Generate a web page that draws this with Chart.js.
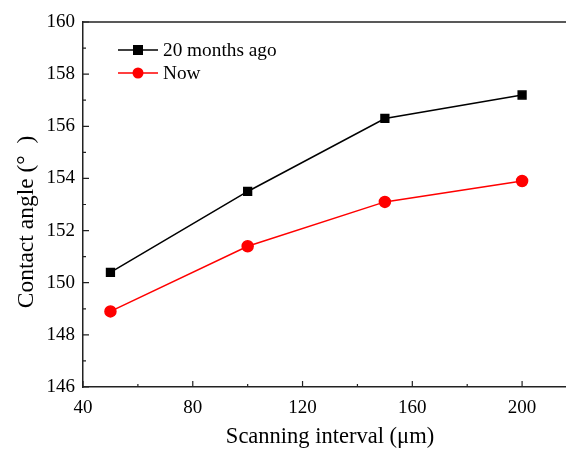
<!DOCTYPE html>
<html>
<head>
<meta charset="utf-8">
<script src="https://cdn.jsdelivr.net/npm/chart.js@4.4.1/dist/chart.umd.min.js"></script>
<style>
  html, body { margin: 0; padding: 0; background: #fff; overflow: hidden; }
  #wrap { width: 566px; height: 450px; }
</style>
</head>
<body>
<div id="wrap"><canvas id="grafico"></canvas></div>
<script>
const scanInterval = [50, 100, 150, 200];
const angleBefore = [150.4, 153.5, 156.3, 157.2];
const angleNow = [148.9, 151.4, 153.1, 153.9];
const xTicks = [40, 80, 120, 160, 200];
const xMinorTicks = [60, 100, 140, 180];
const yTicks = [146, 148, 150, 152, 154, 156, 158, 160];
const yMinorTicks = [147, 149, 151, 153, 155, 157, 159];
const xTitle = 'Scanning interval (μm)';
const yTitle = 'Contact angle (°  )';

const FONT = "'Liberation Serif', 'Times New Roman', serif";

// inward ticks, top frame line, axis titles and legend (line + marker)
const framePlugin = {
  id: 'frame',
  afterDraw(chart) {
    const ctx = chart.ctx;
    const a = chart.chartArea;
    const x = chart.scales.x;
    const y = chart.scales.y;
    ctx.save();
    ctx.strokeStyle = '#222';
    ctx.lineWidth = 1.5;
    ctx.beginPath();
    ctx.moveTo(a.left, a.top);
    ctx.lineTo(a.right, a.top);
    ctx.stroke();

    ctx.lineWidth = 1.2;
    ctx.beginPath();
    xTicks.forEach(v => { const px = x.getPixelForValue(v); ctx.moveTo(px, a.bottom); ctx.lineTo(px, a.bottom - 6); });
    xMinorTicks.forEach(v => { const px = x.getPixelForValue(v); ctx.moveTo(px, a.bottom); ctx.lineTo(px, a.bottom - 3); });
    yTicks.forEach(v => { const py = y.getPixelForValue(v); ctx.moveTo(a.left, py); ctx.lineTo(a.left + 6, py); });
    yMinorTicks.forEach(v => { const py = y.getPixelForValue(v); ctx.moveTo(a.left, py); ctx.lineTo(a.left + 3, py); });
    ctx.stroke();

    // axis titles
    ctx.fillStyle = '#000';
    ctx.textAlign = 'center';
    ctx.textBaseline = 'alphabetic';
    ctx.font = '22.5px ' + FONT;
    ctx.fillText(xTitle, 330, 443);
    ctx.save();
    ctx.translate(33, 222);
    ctx.rotate(-Math.PI / 2);
    ctx.font = '23.5px ' + FONT;
    ctx.fillText(yTitle, 0, 0);
    ctx.restore();

    // legend
    const rows = [[0, 50], [1, 73]];
    ctx.font = '19.3px ' + FONT;
    ctx.textBaseline = 'middle';
    ctx.textAlign = 'left';
    rows.forEach(([i, ry]) => {
      const ds = chart.data.datasets[i];
      ctx.strokeStyle = ds.borderColor;
      ctx.lineWidth = 1.5;
      ctx.beginPath();
      ctx.moveTo(118, ry);
      ctx.lineTo(158, ry);
      ctx.stroke();
      ctx.fillStyle = ds.pointBackgroundColor;
      ctx.beginPath();
      if (ds.pointStyle === 'rect') ctx.rect(138 - 5, ry - 5, 10, 10);
      else ctx.arc(138, ry, 5.5, 0, Math.PI * 2);
      ctx.fill();
      ctx.fillStyle = '#000';
      ctx.fillText(ds.label, 163, ry + 1);
    });
    ctx.restore();
  }
};

new Chart(document.getElementById('grafico').getContext('2d'), {
  type: 'line',
  data: {
    datasets: [
      {
        label: '20 months ago',
        data: scanInterval.map((v, k) => ({ x: v, y: angleBefore[k] })),
        borderColor: '#000',
        backgroundColor: '#000',
        pointBackgroundColor: '#000',
        pointBorderColor: '#000',
        pointStyle: 'rect',
        pointRadius: 5.5,
        borderWidth: 1.5,
        tension: 0,
      },
      {
        label: 'Now',
        data: scanInterval.map((v, k) => ({ x: v, y: angleNow[k] })),
        borderColor: '#ff0000',
        backgroundColor: '#ff0000',
        pointBackgroundColor: '#ff0000',
        pointBorderColor: '#ff0000',
        pointStyle: 'circle',
        pointRadius: 5.5,
        borderWidth: 1.5,
        tension: 0,
      },
    ],
  },
  options: {
    responsive: true,
    maintainAspectRatio: false,
    animation: false,
    layout: { autoPadding: false, padding: { top: 22, right: 0, left: 0, bottom: 0 } },
    plugins: {
      legend: { display: false },
      tooltip: { enabled: false },
    },
    scales: {
      x: {
        type: 'linear',
        min: 40,
        max: 216,
        afterBuildTicks: s => { s.ticks = xTicks.map(v => ({ value: v })); },
        afterFit: s => { s.height = 63; s.paddingLeft = 0; s.paddingRight = 0; },
        grid: { display: false, drawTicks: false },
        border: { display: true, color: '#222', width: 1.5 },
        ticks: { color: '#000', padding: 10, maxRotation: 0, font: { family: FONT, size: 19 } },
      },
      y: {
        min: 146,
        max: 160,
        afterBuildTicks: s => { s.ticks = yTicks.map(v => ({ value: v })); },
        afterFit: s => { s.width = 83; s.paddingTop = 0; s.paddingBottom = 0; },
        grid: { display: false, drawTicks: false },
        border: { display: true, color: '#222', width: 1.5 },
        ticks: { color: '#000', padding: 8, font: { family: FONT, size: 19 } },
      },
    },
  },
  plugins: [framePlugin],
});
</script>
</body>
</html>
